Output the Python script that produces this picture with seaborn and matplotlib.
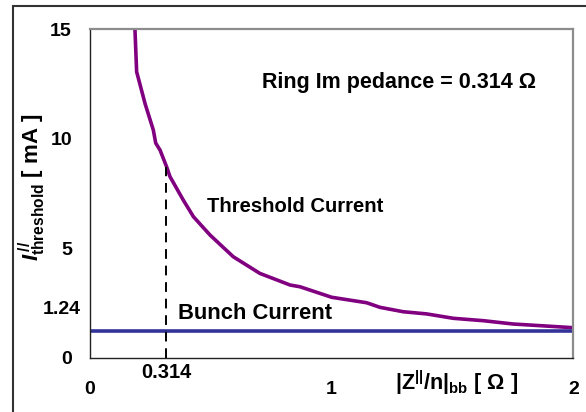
import matplotlib
matplotlib.use("Agg")
import matplotlib.pyplot as plt
import seaborn as sns
import pandas as pd
from matplotlib.patches import Rectangle

# ---- data ----
impedance = [0.186, 0.193, 0.228, 0.262, 0.272, 0.29, 0.317, 0.331, 0.386, 0.428,
             0.497, 0.593, 0.703, 0.828, 0.869, 1.0, 1.145, 1.2, 1.296, 1.393,
             1.503, 1.628, 1.75, 2.0]
threshold = [15.0, 13.06, 11.6, 10.4, 9.8, 9.48, 8.72, 8.27, 7.2, 6.44,
             5.6, 4.61, 3.85, 3.32, 3.24, 2.76, 2.51, 2.30, 2.1, 2.0,
             1.8, 1.69, 1.54, 1.37]
bunch_current = 1.24
ring_impedance = 0.314
ring_threshold = 8.72
x_ticks = [0, 1, 2]
x_tick_labels = ["0", "1", "2"]
y_ticks = [0, 5, 10, 15]
y_tick_labels = ["0", "5", "10", "15"]
y_extra_tick = 2.3
y_extra_label = "1.24"

sns.set_style("white")
plt.rcParams["font.family"] = ["Liberation Sans", "DejaVu Sans"]
plt.rcParams["text.color"] = "black"
plt.rcParams["xtick.color"] = "black"
plt.rcParams["ytick.color"] = "black"
plt.rcParams["mathtext.fontset"] = "custom"
plt.rcParams["mathtext.rm"] = "Liberation Sans:bold"
plt.rcParams["mathtext.it"] = "Liberation Sans:bold:italic"
plt.rcParams["mathtext.bf"] = "Liberation Sans:bold"

fig = plt.figure(figsize=(5.86, 4.12), dpi=100)
ax = fig.add_axes([90 / 586, 1 - 357.7 / 412, (573.3 - 90) / 586, (357.7 - 29.3) / 412])

df = pd.DataFrame({"x": impedance, "y": threshold})
sns.lineplot(data=df, x="x", y="y", ax=ax, color="#800080", lw=2.6, sort=False)
ax.plot([0, 2], [bunch_current, bunch_current], color="#333399", lw=2.6)
ax.plot([ring_impedance, ring_impedance], [0, ring_threshold], color="black",
        lw=1.4, dashes=(5, 3.5))

ax.set_xlim(0, 2)
ax.set_ylim(0, 15)
ax.set_xlabel("")
ax.set_ylabel("")

for s in ["left", "bottom"]:
    ax.spines[s].set_color("#222222")
    ax.spines[s].set_linewidth(1.0)
for s in ["top", "right"]:
    ax.spines[s].set_color("#8c8c8c")
    ax.spines[s].set_linewidth(1.6)

ax.set_xticks(x_ticks)
ax.set_xticklabels(x_tick_labels)
ax.set_xticks([ring_impedance], minor=True)
ax.set_xticklabels([f"{ring_impedance}"], minor=True)
ax.set_yticks(y_ticks)
ax.set_yticklabels(y_tick_labels)
ax.set_yticks([y_extra_tick], minor=True)
ax.set_yticklabels([y_extra_label], minor=True)

ax.tick_params(axis="x", which="major", direction="out", length=4, width=1,
               color="#222222", pad=13, labelsize=14)
ax.tick_params(axis="x", which="minor", length=0, pad=4, labelsize=14.5)
ax.tick_params(axis="y", which="major", direction="out", length=5, width=1,
               color="#222222", pad=8, labelsize=14)
ax.tick_params(axis="y", which="minor", length=0, pad=7, labelsize=14)
for lab in ax.get_xticklabels(which="both") + ax.get_yticklabels(which="both"):
    lab.set_fontweight("bold")

ax.text(0.712, 12.59, "Ring Im pedance = 0.314 Ω", fontsize=15.5,
        fontweight="bold", ha="left", va="center")
ax.text(0.483, 6.9, "Threshold Current", fontsize=14.6, fontweight="bold",
        ha="left", va="center")
ax.text(0.364, 2.0, "Bunch Current", fontsize=15.8, fontweight="bold",
        ha="left", va="center")

ax.text(1.515, -1.16, r"$|\mathregular{Z}^{||}/\mathregular{n}|_{\mathregular{bb}}$ [ Ω ]",
        fontsize=15.5, fontweight="bold", ha="center", va="center", clip_on=False)
ax.text(-0.12, 0.518, r"$\mathit{I}^{\,//}_{\mathrm{threshold}}$ [ mA ]",
        fontsize=16, fontweight="bold", rotation=90, ha="center", va="center",
        transform=ax.transAxes, clip_on=False)

fig.patches.append(Rectangle((13 / 586, -0.2), 1.2, 1.2 - 5.5 / 412,
                             transform=fig.transFigure, fill=False,
                             edgecolor="#333333", lw=1.5))

fig.savefig("out.png", dpi=100)
